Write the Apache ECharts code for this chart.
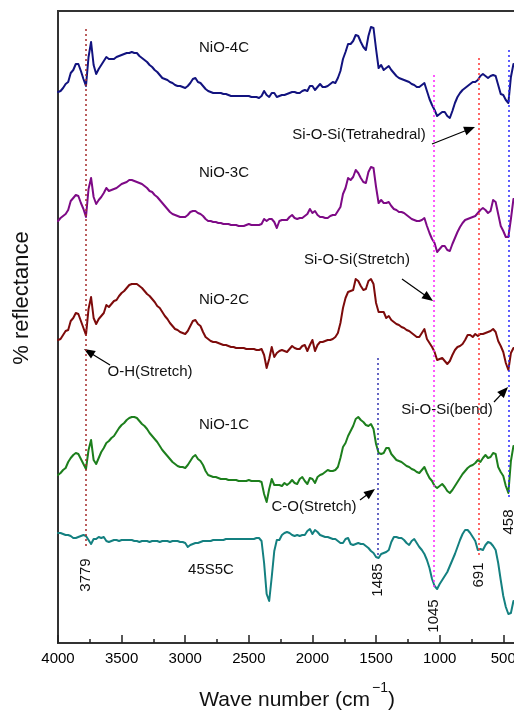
<!DOCTYPE html>
<html><head><meta charset="utf-8">
<script src="https://cdn.jsdelivr.net/npm/echarts@6/dist/echarts.min.js"></script>
<style>html,body{margin:0;padding:0;background:#fff}#c{width:514px;height:712px}</style>
</head><body><div id="c"></div>
<script>
// ---- data (wavenumber grid in cm^-1, offset reflectance in arbitrary units) ----
const wavenumbers = [
4000,3980,3960,3940,3920,3900,3880,3860,3840,3820,
3800,3780,3760,3740,3720,3700,3680,3660,3640,3620,
3600,3580,3560,3540,3520,3500,3480,3460,3440,3420,
3400,3380,3360,3340,3320,3300,3280,3260,3240,3220,
3200,3180,3160,3140,3120,3100,3080,3060,3040,3020,
3000,2980,2960,2940,2920,2900,2880,2860,2840,2820,
2800,2780,2760,2740,2720,2700,2680,2660,2640,2620,
2600,2580,2560,2540,2520,2500,2480,2460,2440,2420,
2400,2380,2360,2340,2320,2300,2280,2260,2240,2220,
2200,2180,2160,2140,2120,2100,2080,2060,2040,2020,
2000,1980,1960,1940,1920,1900,1880,1860,1840,1820,
1800,1780,1760,1740,1720,1700,1680,1660,1640,1620,
1600,1580,1560,1540,1520,1500,1480,1460,1440,1420,
1400,1380,1360,1340,1320,1300,1280,1260,1240,1220,
1200,1180,1160,1140,1120,1100,1080,1060,1040,1020,
1000,980,960,940,920,900,880,860,840,820,
800,780,760,740,720,700,680,660,640,620,
600,580,560,540,520,500,480,460,440,420];

const nio4c = [
551,552,555,559,561,570,573,579,579,572,
564,557,586,601,578,569,574,578,582,586,
584,584,584,586,587,588,589,590,590,591,
590,590,587,585,583,581,578,576,573,571,
568,565,564,563,561,560,558,557,557,556,
555,557,560,564,565,561,560,557,554,552,
551,550,550,550,550,549,549,548,547,547,
547,547,547,547,547,547,546,546,546,545,
547,552,548,546,550,550,546,547,548,548,
549,550,551,551,550,550,552,553,552,557,
557,553,556,559,556,556,557,559,561,560,
565,572,584,591,599,599,602,608,607,601,
596,593,607,616,615,594,575,578,573,575,
577,573,570,567,565,564,563,562,561,559,
558,556,556,558,560,552,544,538,533,527,
529,531,531,527,525,532,540,546,550,553,
555,557,559,561,561,563,567,569,567,565,
567,568,567,558,549,548,543,540,566,579];

const nio3c = [
422,425,427,429,433,442,445,448,447,440,
434,426,454,465,446,439,443,446,450,455,
452,453,454,455,457,459,460,461,463,463,
462,461,460,459,457,455,452,451,448,446,
443,440,437,434,431,429,428,427,426,426,
426,428,431,432,432,430,429,427,424,422,
422,421,421,420,420,419,419,419,418,418,
418,417,417,417,418,419,418,418,418,418,
419,424,422,424,424,421,415,422,423,423,
423,426,428,425,424,425,425,427,429,434,
430,432,428,426,426,425,425,427,428,428,
432,436,449,455,465,463,466,473,470,465,
461,460,471,476,475,456,440,443,440,440,
441,437,434,433,431,431,430,428,426,424,
423,422,422,423,425,417,410,404,400,391,
394,397,397,393,392,399,405,411,416,420,
423,424,425,426,427,430,433,435,433,430,
432,443,441,429,417,412,406,406,424,444];

const nio2c = [
303,304,308,312,313,322,325,330,329,322,
315,308,334,346,325,319,324,327,330,338,
336,339,342,343,347,350,352,355,358,359,
359,359,357,355,352,349,347,344,341,337,
335,331,327,324,320,317,314,313,311,310,
309,312,317,322,323,319,317,311,306,304,
302,301,301,300,299,298,298,297,296,296,
295,295,295,295,294,294,294,294,293,293,
294,288,275,284,296,286,290,292,293,292,
291,294,297,295,294,294,297,298,292,298,
303,292,298,301,301,302,303,303,304,306,
310,320,335,345,351,352,353,364,362,357,
353,354,362,364,359,340,331,331,331,325,
327,323,321,319,318,316,315,313,312,310,
308,306,306,310,314,304,300,296,291,283,
284,285,282,279,282,288,293,296,297,299,
303,308,308,306,309,307,309,309,310,311,
312,314,311,302,297,291,280,273,290,295];

const nio1c = [
168,170,173,175,181,185,188,190,189,184,
179,174,193,203,183,179,185,191,195,200,
202,205,207,211,215,218,220,223,225,226,
226,225,222,219,217,214,210,207,204,201,
197,193,190,187,184,181,179,177,176,176,
175,178,182,186,188,184,182,178,172,168,
167,166,166,165,164,164,164,163,163,163,
163,162,162,162,162,163,162,162,162,162,
161,149,141,154,164,158,158,158,157,160,
158,160,163,160,159,164,166,162,159,165,
164,160,166,168,169,171,173,172,172,173,
176,185,196,200,207,212,217,224,226,223,
221,218,217,219,214,199,190,189,190,195,
195,189,186,183,182,181,179,177,176,174,
173,171,170,173,176,170,165,162,157,155,
157,159,156,152,150,153,157,161,165,169,
172,175,177,178,180,183,181,185,188,185,
186,190,189,176,171,167,157,150,182,197];

const s45s5c = [
110,110,109,108,108,107,105,105,106,107,
108,107,103,99,104,104,106,105,106,102,
101,102,103,103,102,103,103,103,103,103,
102,102,101,102,102,102,101,102,102,102,
101,102,102,102,101,102,102,102,101,101,
100,96,98,99,100,100,101,102,102,102,
102,103,103,103,103,103,104,104,104,104,
104,104,104,104,104,104,104,104,105,105,
102,80,49,42,66,92,103,103,108,110,
111,110,108,107,108,107,108,108,112,114,
109,113,111,108,107,106,106,105,104,104,
102,100,100,104,105,99,98,99,100,99,
99,97,95,92,90,86,85,89,90,91,
93,101,106,106,105,105,103,100,98,102,
104,100,96,93,89,83,75,64,57,54,
59,63,67,71,77,83,89,96,103,109,
113,113,110,106,102,93,94,93,98,101,
100,97,93,80,63,47,36,29,30,42];

const seriesNames = ['NiO-4C','NiO-3C','NiO-2C','NiO-1C','45S5C'];
const majorTicks = [4000,3500,3000,2500,2000,1500,1000,500];
const minorTicks = [3750,3250,2750,2250,1750,1250,750];
const peakWavenumbers = [3779,1485,1045,691,458];
const peakLabels = ['3779','1485','1045','691','458'];
const annotationTexts = ['Si-O-Si(Tetrahedral)','Si-O-Si(Stretch)','O-H(Stretch)','Si-O-Si(bend)','C-O(Stretch)'];

// ---- styling / layout ----
const FONT = "'Liberation Sans', Arial, Helvetica, sans-serif";
const curveColors = ['#12137f','#7e0a86','#7d0b0b','#1d7f1d','#148080'];
const curveLabelPos = [[224,48],[224,173],[224,300],[224,425],[211,570]];
const peakStyle = [
  {color:'#a52a2a', y:[614,95], labelY:575},
  {color:'#3535b0', y:[285,85], labelY:580},
  {color:'#ff22ff', y:[568,53], labelY:616},
  {color:'#ff3333', y:[585,85], labelY:575},
  {color:'#2a2aff', y:[593,143], labelY:522}
];
const annotationLayout = [
  {text:[359,135], tail:[432,144], tip:[475,127]},
  {text:[357,260], tail:[402,279], tip:[433,301]},
  {text:[150,372], tail:[110,365], tip:[84,349]},
  {text:[447,410], tail:[494,402], tip:[508,387]},
  {text:[314,507], tail:[360,500], tip:[375,489]}
];

const allValues = [nio4c, nio3c, nio2c, nio1c, s45s5c];
const chart = echarts.init(document.getElementById('c'));

const series = allValues.map((vals, k) => ({
  name: seriesNames[k], type: 'line', xAxisIndex: 0, yAxisIndex: 0,
  data: wavenumbers.map((w, i) => [w, vals[i]]),
  showSymbol: false, symbol: 'none', smooth: false, animation: false, silent: true,
  lineStyle: {color: curveColors[k], width: 2, cap: 'round', join: 'round'}
}));
series[4].markLine = {
  silent: true, symbol: ['none','none'], animation: false, label: {show: false},
  data: peakWavenumbers.map((w, k) => [
    {coord: [w, peakStyle[k].y[0]], lineStyle: {color: peakStyle[k].color, width: 1.5, type: [2, 3]}},
    {coord: [w, peakStyle[k].y[1]]}
  ])
};

chart.setOption({
  animation: false,
  grid: {left: 58, right: -2, top: 11, bottom: 69, containLabel: false, outerBoundsMode: 'none',
         show: true, borderColor: '#333', borderWidth: 2, backgroundColor: 'transparent'},
  xAxis: [
    {type: 'value', min: 400, max: 4000, inverse: true, position: 'bottom',
     axisLine: {show: false}, splitLine: {show: false},
     axisTick: {show: true, inside: true, length: 8, customValues: majorTicks, lineStyle: {color: '#222', width: 1.5}},
     axisLabel: {show: true, customValues: majorTicks, margin: 8, color: '#000', fontSize: 15, fontFamily: FONT,
                 formatter: v => String(v)}},
    {type: 'value', min: 400, max: 4000, inverse: true, position: 'bottom',
     axisLine: {show: false}, splitLine: {show: false},
     axisTick: {show: true, inside: true, length: 4, customValues: minorTicks, lineStyle: {color: '#222', width: 1.5}},
     axisLabel: {show: false}}
  ],
  yAxis: {type: 'value', min: 0, max: 632, show: false},
  series: series
});

// ---- text annotations ----
const graphics = [];
seriesNames.forEach((n, k) => graphics.push({type: 'text', x: curveLabelPos[k][0], y: curveLabelPos[k][1], silent: true,
  style: {text: n, fill: '#111', font: '15px ' + FONT, align: 'center', verticalAlign: 'middle'}}));
peakLabels.forEach((t, k) => {
  const px = chart.convertToPixel({xAxisIndex: 0}, peakWavenumbers[k]);
  graphics.push({type: 'text', x: px, y: peakStyle[k].labelY, rotation: Math.PI / 2, silent: true,
    style: {text: t, fill: '#111', font: '15px ' + FONT, align: 'center', verticalAlign: 'middle'}});
});
annotationTexts.forEach((t, k) => {
  const a = annotationLayout[k];
  graphics.push({type: 'text', x: a.text[0], y: a.text[1], silent: true,
    style: {text: t, fill: '#111', font: '15px ' + FONT, align: 'center', verticalAlign: 'middle'}});
  const dx = a.tip[0] - a.tail[0], dy = a.tip[1] - a.tail[1];
  const len = Math.sqrt(dx * dx + dy * dy), ux = dx / len, uy = dy / len;
  const hl = 11, hw = 4.5;
  const bx = a.tip[0] - ux * hl, by = a.tip[1] - uy * hl;
  graphics.push({type: 'line', silent: true, shape: {x1: a.tail[0], y1: a.tail[1], x2: bx + ux * 2, y2: by + uy * 2},
    style: {stroke: '#000', lineWidth: 1.2}});
  graphics.push({type: 'polygon', silent: true,
    shape: {points: [[a.tip[0], a.tip[1]], [bx - uy * hw, by + ux * hw], [bx + uy * hw, by - ux * hw]]},
    style: {fill: '#000'}});
});
// axis titles
graphics.push({type: 'text', x: 22, y: 298, rotation: Math.PI / 2, silent: true,
  style: {text: '% reflectance', fill: '#111', font: '22px ' + FONT, align: 'center', verticalAlign: 'middle'}});
graphics.push({type: 'text', x: 370, y: 700, silent: true,
  style: {text: 'Wave number (cm', fill: '#111', font: '21px ' + FONT, align: 'right', verticalAlign: 'middle'}});
graphics.push({type: 'text', x: 372, y: 688, silent: true,
  style: {text: '\u22121', fill: '#111', font: '14px ' + FONT, align: 'left', verticalAlign: 'middle'}});
graphics.push({type: 'text', x: 388, y: 700, silent: true,
  style: {text: ')', fill: '#111', font: '21px ' + FONT, align: 'left', verticalAlign: 'middle'}});

chart.setOption({graphic: graphics});
</script>
</body></html>
